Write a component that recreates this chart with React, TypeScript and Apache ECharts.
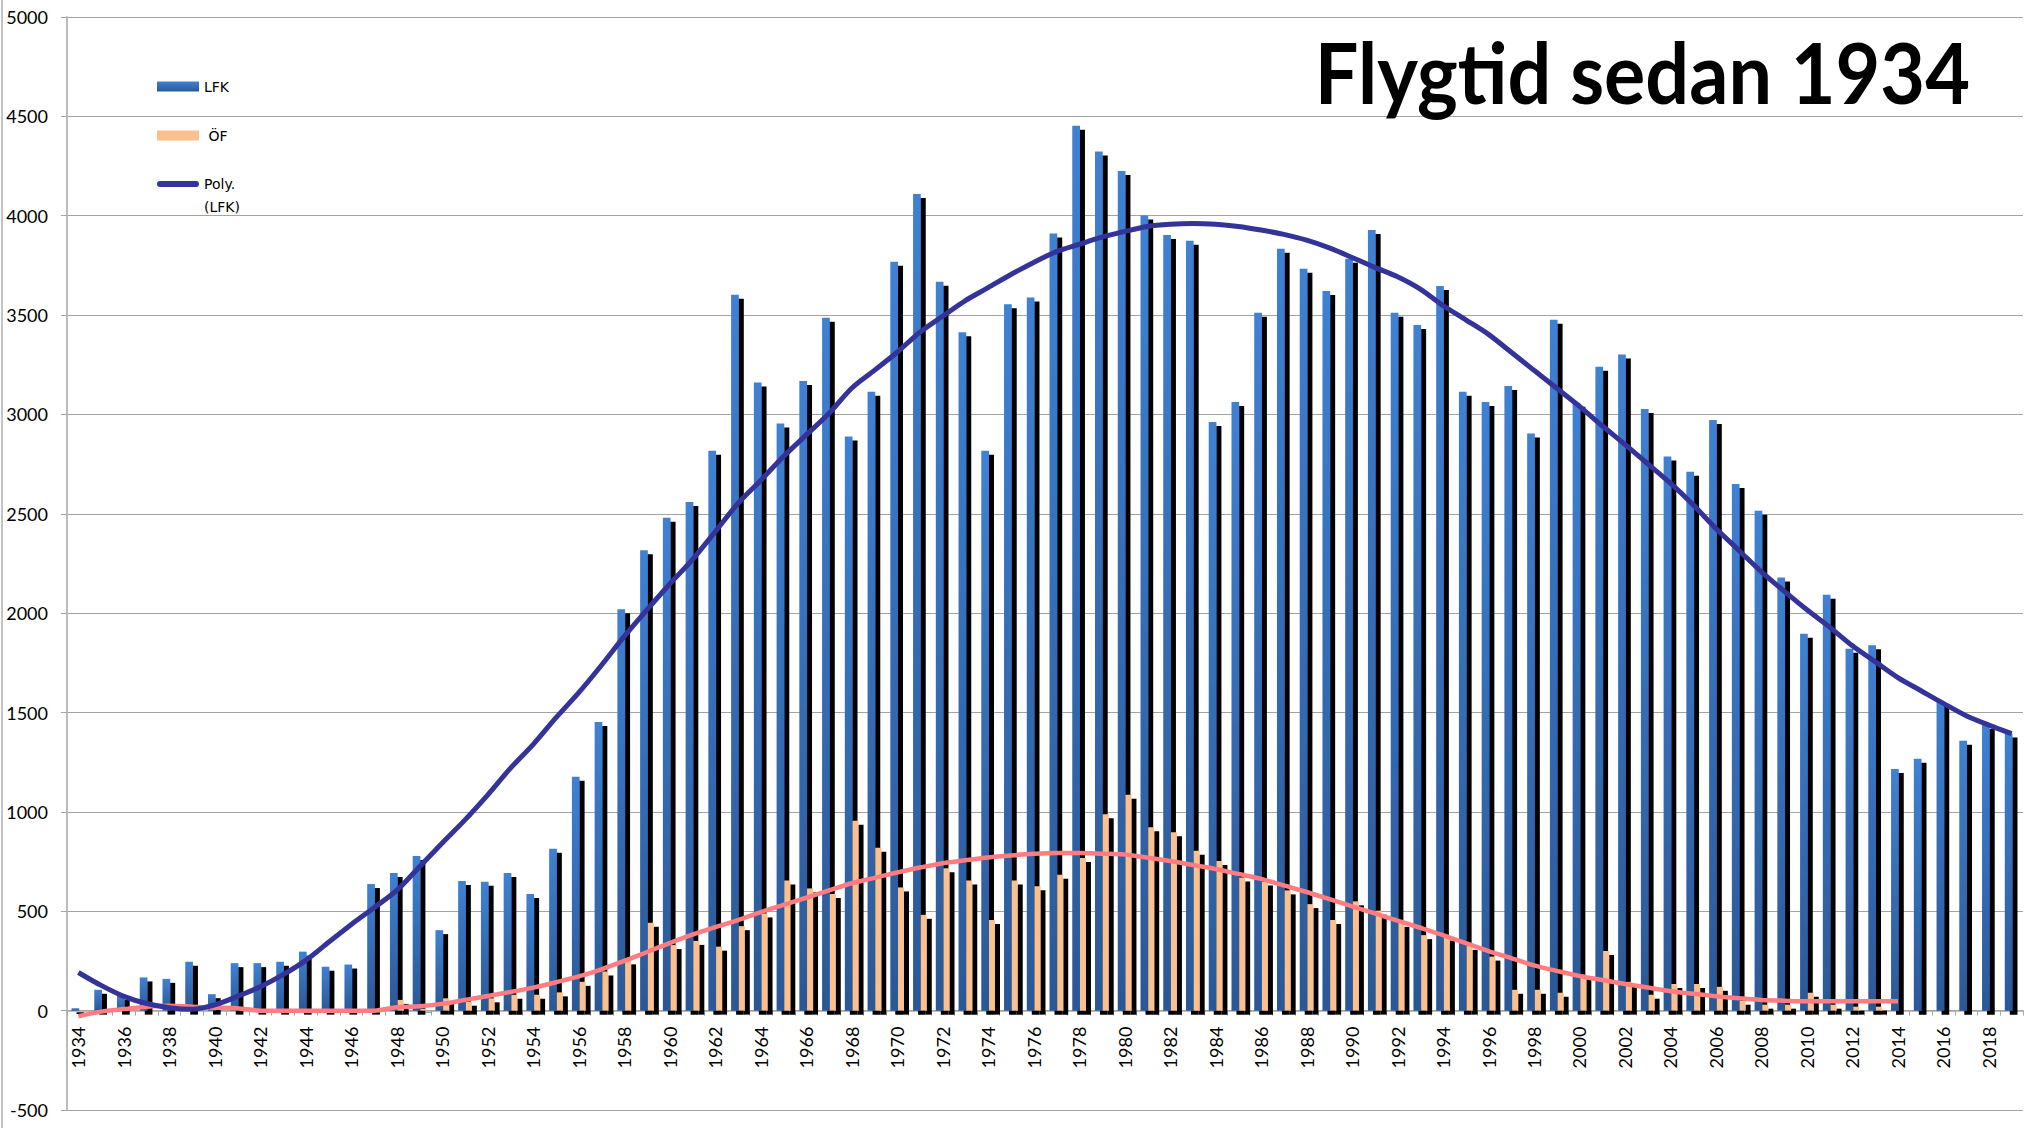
import React, { useEffect, useRef } from 'react';
import * as echarts from 'echarts';

const years = [
  '1934', '1935', '1936', '1937', '1938', '1939', '1940', '1941', '1942', '1943',
  '1944', '1945', '1946', '1947', '1948', '1949', '1950', '1951', '1952', '1953',
  '1954', '1955', '1956', '1957', '1958', '1959', '1960', '1961', '1962', '1963',
  '1964', '1965', '1966', '1967', '1968', '1969', '1970', '1971', '1972', '1973',
  '1974', '1975', '1976', '1977', '1978', '1979', '1980', '1981', '1982', '1983',
  '1984', '1985', '1986', '1987', '1988', '1989', '1990', '1991', '1992', '1993',
  '1994', '1995', '1996', '1997', '1998', '1999', '2000', '2001', '2002', '2003',
  '2004', '2005', '2006', '2007', '2008', '2009', '2010', '2011', '2012', '2013',
  '2014', '2015', '2016', '2017', '2018', '2019',
];

const lfk = [
  12, 105, 75, 167, 160, 246, 83, 239, 239, 246,
  297, 221, 232, 637, 692, 778, 405, 652, 648, 692,
  587, 815, 1177, 1452, 2020, 2317, 2480, 2560, 2817, 3602,
  3161, 2954, 3168, 3487, 2889, 3114, 3769, 4109, 3668, 3414,
  2817, 3555, 3588, 3910, 4453, 4323, 4225, 4001, 3903, 3874,
  2962, 3063, 3512, 3834, 3733, 3621, 3784, 3928, 3512, 3450,
  3646, 3114, 3063, 3143, 2904, 3476, 3059, 3240, 3302, 3027,
  2788, 2712, 2972, 2650, 2516, 2180, 1897, 2093, 1821, 1839,
  1216, 1267, 1557, 1358, 1437, 1395,
];

const of = [
  0, 0, 0, 0, 0, 0, 0, 0, 0, 0,
  0, 0, 0, 0, 54, 10, 62, 45, 62, 80,
  80, 92, 145, 197, 253, 442, 330, 351, 322, 425,
  489, 655, 615, 587, 955, 820, 620, 482, 717, 655,
  456, 655, 626, 684, 768, 988, 1086, 923, 898, 804,
  753, 670, 650, 605, 536, 456, 550, 503, 442, 380,
  373, 326, 272, 105, 105, 90, 181, 300, 145, 80,
  134, 134, 120, 50, 30, 30, 90, 30, 20, 20,
  0, null, null, null, null, null,
];

const lfkTrend = [
  192, 127, 72, 36, 15, 7, 29, 72, 120, 181,
  253, 344, 434, 518, 605, 724, 844, 960, 1086, 1220,
  1340, 1474, 1600, 1738, 1883, 2017, 2147, 2270, 2410, 2552,
  2668, 2788, 2897, 3005, 3132, 3222, 3313, 3414, 3494, 3573,
  3638, 3704, 3765, 3819, 3856, 3892, 3921, 3946, 3957, 3961,
  3957, 3946, 3928, 3906, 3877, 3838, 3790, 3740, 3693, 3631,
  3548, 3476, 3403, 3313, 3222, 3132, 3041, 2943, 2849, 2752,
  2654, 2545, 2426, 2317, 2208, 2111, 2017, 1930, 1836, 1756,
  1676, 1611, 1546, 1484, 1437, 1394,
];

const ofTrend = [
  -28, -5, 8, 20, 25, 20, 15, 12, 0, 0,
  0, 0, 0, 0, 17, 22, 34, 54, 74, 94,
  116, 143, 172, 208, 250, 295, 340, 382, 420, 456,
  496, 532, 568, 605, 641, 668, 695, 720, 742, 757,
  771, 781, 789, 793, 793, 790, 786, 770, 753, 733,
  713, 688, 663, 630, 597, 561, 525, 489, 453, 417,
  380, 340, 300, 264, 228, 200, 174, 154, 134, 116,
  98, 85, 72, 62, 54, 50, 47, 47, 47, 47,
  47, null, null, null, null, null,
];

const TITLE = 'Flygtid sedan 1934';
const FONT = 'Lato, "Open Sans", sans-serif';
const LEGEND_FONT = '"DejaVu Sans", sans-serif';

const Y_MIN = -500;
const Y_MAX = 5000;
const GRID_TOP = 17;
const GRID_BOTTOM = 18;
const CHART_H = 1128;

export default function App() {
  const ref = useRef<HTMLDivElement>(null);

  useEffect(() => {
    if (!ref.current) return;
    const chart = echarts.init(ref.current, null, { renderer: 'svg' });

    const blueGrad = new echarts.graphic.LinearGradient(0, 0, 0, 1, [
      { offset: 0, color: '#3f81d3' },
      { offset: 1, color: '#2b5896' },
    ]);

    // distance (px) from the grid bottom up to the value-axis zero line
    const plotH = CHART_H - GRID_TOP - GRID_BOTTOM;
    const zeroOffset = (plotH * (0 - Y_MIN)) / (Y_MAX - Y_MIN);

    const legendCommon = {
      orient: 'vertical',
      left: 157,
      padding: 0,
      itemWidth: 42,
      itemHeight: 10,
      itemGap: 26,
      itemTextGap: 2,
      icon: 'rect',
      textStyle: { fontFamily: LEGEND_FONT, fontSize: 14, color: '#000', lineHeight: 23 },
    };

    const option: any = {
      animation: false,
      backgroundColor: '#ffffff',
      textStyle: { fontFamily: FONT },
      graphic: [
        {
          type: 'line',
          shape: { x1: 2, y1: 0, x2: 2, y2: 1128 },
          style: { stroke: '#c4c4c4', lineWidth: 2 },
          silent: true,
        },
        {
          type: 'text',
          x: 1970,
          y: 71,
          scaleX: 0.92,
          style: {
            text: TITLE,
            font: 'bold 84px ' + FONT,
            fill: '#000000',
            align: 'right',
            verticalAlign: 'middle',
          },
          z: 10,
        },
      ],
      legend: [
        {
          ...legendCommon,
          top: 75,
          formatter: (n: string) => (n === 'ÖF' ? ' ÖF' : n),
          data: [{ name: 'LFK' }, { name: 'ÖF' }],
        },
        {
          ...legendCommon,
          top: 149.5,
          formatter: () => '\nPoly.\n(LFK)',
          data: [
            {
              name: 'Poly. (LFK)',
              icon: 'path://M3 0 H39 A3 3 0 0 1 39 6 H3 A3 3 0 0 1 3 0 Z',
              itemStyle: { color: '#333399', borderWidth: 0 },
            },
          ],
        },
      ],
      grid: { left: 67, right: 4, top: GRID_TOP, bottom: GRID_BOTTOM, containLabel: false, outerBoundsMode: 'none' },
      xAxis: {
        type: 'category',
        data: years,
        boundaryGap: true,
        position: 'bottom',
        offset: -zeroOffset,
        axisLine: { onZero: false, lineStyle: { color: '#a6a6a6', width: 1.5 } },
        axisTick: { show: true, interval: 0, length: 5, alignWithLabel: false, lineStyle: { color: '#a6a6a6' } },
        axisLabel: {
          interval: 1,
          rotate: 90,
          margin: 16,
          fontSize: 18,
          fontFamily: FONT,
          color: '#000',
          hideOverlap: false,
        },
        splitLine: { show: false },
      },
      yAxis: {
        type: 'value',
        min: Y_MIN,
        max: Y_MAX,
        interval: 500,
        axisLine: { show: true, lineStyle: { color: '#bcbcbc', width: 2 } },
        axisTick: { show: true, length: 6, lineStyle: { color: '#a6a6a6' } },
        axisLabel: {
          fontSize: 18,
          fontFamily: FONT,
          color: '#000',
          margin: 19,
          formatter: (v: number) => String(v),
        },
        splitLine: { show: true, lineStyle: { color: '#a3a3a3', width: 1.2 } },
      },
      series: [
        {
          name: 'LFK',
          type: 'bar',
          data: lfk,
          barWidth: 7.7,
          barGap: '0%',
          itemStyle: {
            color: blueGrad,
            shadowColor: '#000000',
            shadowBlur: 0,
            shadowOffsetX: 5,
            shadowOffsetY: 4,
          },
          z: 2,
        },
        {
          name: 'ÖF',
          type: 'bar',
          data: of,
          barWidth: 6,
          barGap: '0%',
          itemStyle: {
            color: '#fac090',
            shadowColor: '#000000',
            shadowBlur: 0,
            shadowOffsetX: 5,
            shadowOffsetY: 4,
          },
          z: 3,
        },
        {
          name: 'Poly. (LFK)',
          type: 'line',
          data: lfkTrend,
          smooth: 0.3,
          symbol: 'none',
          color: '#333399',
          lineStyle: { color: '#333399', width: 5 },
          z: 5,
        },
        {
          name: 'Poly. (ÖF)',
          type: 'line',
          data: ofTrend,
          smooth: 0.3,
          symbol: 'none',
          color: '#ff7c80',
          lineStyle: { color: '#ff7c80', width: 4.5 },
          z: 4,
        },
      ],
    };

    chart.setOption(option);
    return () => chart.dispose();
  }, []);

  return (
    <div
      ref={ref}
      style={{ position: 'fixed', left: 0, top: 0, width: 2027, height: 1128, background: '#fff' }}
    />
  );
}
